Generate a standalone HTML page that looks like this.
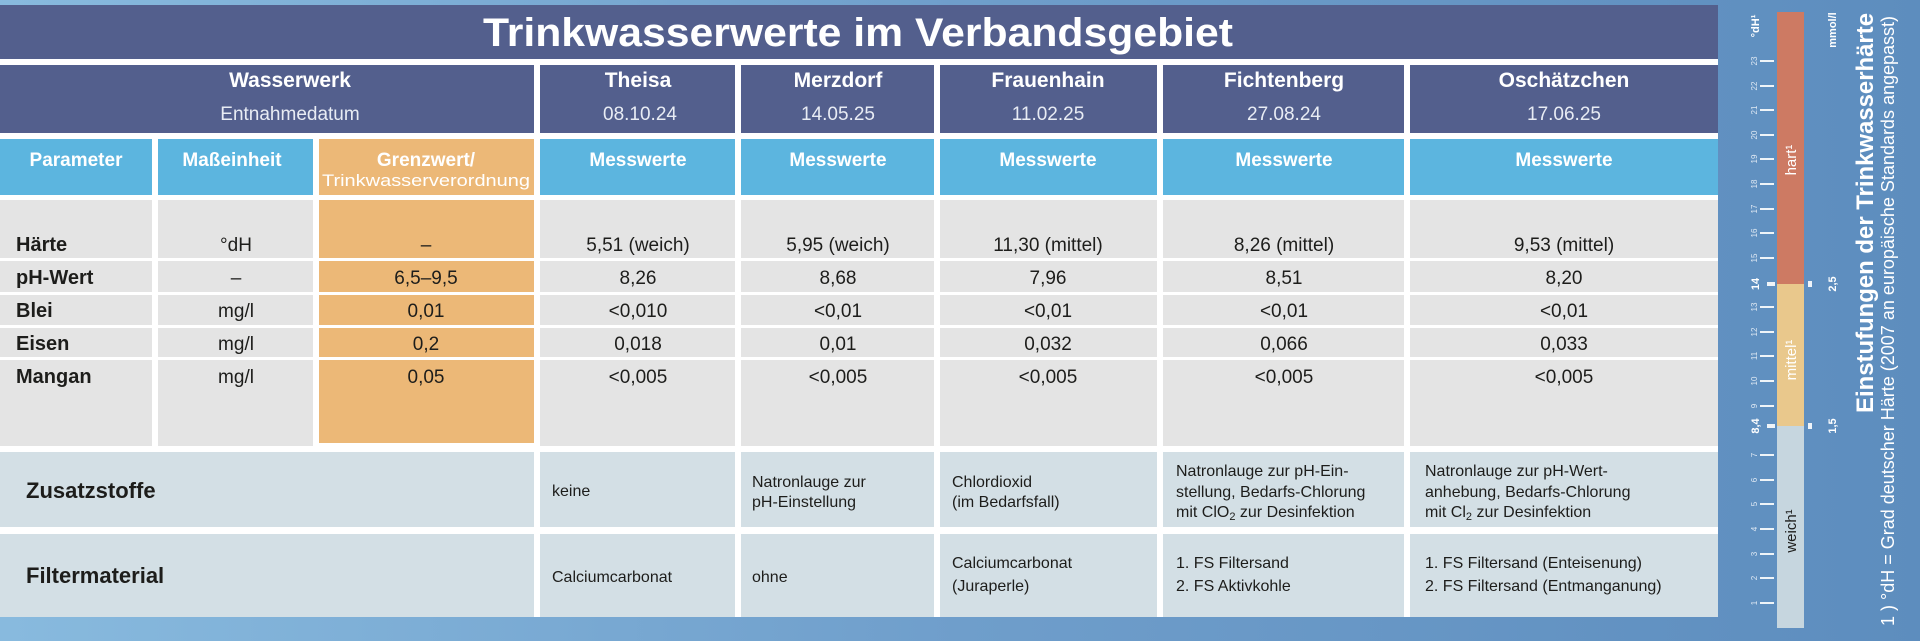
<!DOCTYPE html>
<html><head><meta charset="utf-8"><style>
html,body{margin:0;padding:0;width:1920px;height:641px;overflow:hidden}
svg{display:block}
text{font-family:"Liberation Sans",sans-serif}
.w{fill:#fff}
.d{fill:#1d1d1b}
.b{font-weight:bold}
</style></head><body>
<svg width="1920" height="641" viewBox="0 0 1920 641" xmlns="http://www.w3.org/2000/svg">
<defs>
<linearGradient id="bg" x1="0" y1="0" x2="1" y2="0">
<stop offset="0" stop-color="#88bade"/><stop offset="0.5" stop-color="#6f9ecb"/><stop offset="1" stop-color="#5d8dbe"/>
</linearGradient>
</defs>
<rect width="1920" height="641" fill="url(#bg)"/>
<!-- table white base -->
<rect x="0" y="59" width="1718" height="558" fill="#fff"/>
<!-- title -->
<rect x="0" y="5" width="1718" height="54" fill="#535f8d"/>
<text x="858" y="46" text-anchor="middle" class="w b" font-size="40" textLength="750" lengthAdjust="spacingAndGlyphs">Trinkwasserwerte im Verbandsgebiet</text>
<!-- header row -->
<g fill="#535f8d">
<rect x="0" y="65" width="534" height="68"/>
<rect x="540" y="65" width="195" height="68"/>
<rect x="741" y="65" width="193" height="68"/>
<rect x="940" y="65" width="217" height="68"/>
<rect x="1163" y="65" width="241" height="68"/>
<rect x="1410" y="65" width="308" height="68"/>
</g>
<g class="w" font-size="21" text-anchor="middle">
<text x="290" y="87" class="b">Wasserwerk</text>
<text x="638" y="87" class="b">Theisa</text>
<text x="838" y="87" class="b">Merzdorf</text>
<text x="1048" y="87" class="b">Frauenhain</text>
<text x="1284" y="87" class="b">Fichtenberg</text>
<text x="1564" y="87" class="b">Oschätzchen</text>
</g>
<g fill="#e8ecf4" font-size="19" text-anchor="middle">
<text x="290" y="120">Entnahmedatum</text>
<text x="640" y="120">08.10.24</text>
<text x="838" y="120">14.05.25</text>
<text x="1048" y="120">11.02.25</text>
<text x="1284" y="120">27.08.24</text>
<text x="1564" y="120">17.06.25</text>
</g>
<!-- messwerte row -->
<g fill="#5cb5df">
<rect x="0" y="139" width="152" height="56"/>
<rect x="158" y="139" width="155" height="56"/>
<rect x="540" y="139" width="195" height="56"/>
<rect x="741" y="139" width="193" height="56"/>
<rect x="940" y="139" width="217" height="56"/>
<rect x="1163" y="139" width="241" height="56"/>
<rect x="1410" y="139" width="308" height="56"/>
</g>
<rect x="319" y="139" width="215" height="56" fill="#ecb877"/>
<g class="w b" font-size="19" text-anchor="middle">
<text x="76" y="166">Parameter</text>
<text x="232" y="166">Maßeinheit</text>
<text x="426" y="166">Grenzwert/</text>
<text x="638" y="166">Messwerte</text>
<text x="838" y="166">Messwerte</text>
<text x="1048" y="166">Messwerte</text>
<text x="1284" y="166">Messwerte</text>
<text x="1564" y="166">Messwerte</text>
</g>
<text x="426" y="186" text-anchor="middle" class="w" font-size="17" textLength="208" lengthAdjust="spacingAndGlyphs">Trinkwasserverordnung</text>
<!-- body -->
<g fill="#e4e4e4">
<rect x="0" y="200" width="152" height="246"/>
<rect x="158" y="200" width="155" height="246"/>
<rect x="540" y="200" width="195" height="246"/>
<rect x="741" y="200" width="193" height="246"/>
<rect x="940" y="200" width="217" height="246"/>
<rect x="1163" y="200" width="241" height="246"/>
<rect x="1410" y="200" width="308" height="246"/>
</g>
<rect x="319" y="200" width="215" height="243" fill="#ecb877"/>
<g fill="#fff">
<rect x="0" y="258" width="1718" height="3"/>
<rect x="0" y="292" width="1718" height="3"/>
<rect x="0" y="325" width="1718" height="3"/>
<rect x="0" y="357" width="1718" height="3"/>
</g>
<g class="d b" font-size="20">
<text x="16" y="251">Härte</text>
<text x="16" y="284">pH-Wert</text>
<text x="16" y="317">Blei</text>
<text x="16" y="350">Eisen</text>
<text x="16" y="383">Mangan</text>
</g>
<g class="d" font-size="19" text-anchor="middle">
<text x="236" y="251">°dH</text><text x="236" y="284">–</text><text x="236" y="317">mg/l</text><text x="236" y="350">mg/l</text><text x="236" y="383">mg/l</text>
<text x="426" y="251">–</text><text x="426" y="284">6,5–9,5</text><text x="426" y="317">0,01</text><text x="426" y="350">0,2</text><text x="426" y="383">0,05</text>
<text x="638" y="251">5,51 (weich)</text><text x="638" y="284">8,26</text><text x="638" y="317">&lt;0,010</text><text x="638" y="350">0,018</text><text x="638" y="383">&lt;0,005</text>
<text x="838" y="251">5,95 (weich)</text><text x="838" y="284">8,68</text><text x="838" y="317">&lt;0,01</text><text x="838" y="350">0,01</text><text x="838" y="383">&lt;0,005</text>
<text x="1048" y="251">11,30  (mittel)</text><text x="1048" y="284">7,96</text><text x="1048" y="317">&lt;0,01</text><text x="1048" y="350">0,032</text><text x="1048" y="383">&lt;0,005</text>
<text x="1284" y="251">8,26 (mittel)</text><text x="1284" y="284">8,51</text><text x="1284" y="317">&lt;0,01</text><text x="1284" y="350">0,066</text><text x="1284" y="383">&lt;0,005</text>
<text x="1564" y="251">9,53 (mittel)</text><text x="1564" y="284">8,20</text><text x="1564" y="317">&lt;0,01</text><text x="1564" y="350">0,033</text><text x="1564" y="383">&lt;0,005</text>
</g>
<!-- zusatz / filter -->
<g fill="#d3dfe5">
<rect x="0" y="452" width="534" height="75"/>
<rect x="540" y="452" width="195" height="75"/>
<rect x="741" y="452" width="193" height="75"/>
<rect x="940" y="452" width="217" height="75"/>
<rect x="1163" y="452" width="241" height="75"/>
<rect x="1410" y="452" width="308" height="75"/>
<rect x="0" y="534" width="534" height="83"/>
<rect x="540" y="534" width="195" height="83"/>
<rect x="741" y="534" width="193" height="83"/>
<rect x="940" y="534" width="217" height="83"/>
<rect x="1163" y="534" width="241" height="83"/>
<rect x="1410" y="534" width="308" height="83"/>
</g>
<g class="d b" font-size="22">
<text x="26" y="498">Zusatzstoffe</text>
<text x="26" y="583">Filtermaterial</text>
</g>
<g class="d" font-size="16">
<text x="552" y="496">keine</text>
<text x="752" y="487">Natronlauge zur</text><text x="752" y="507">pH-Einstellung</text>
<text x="952" y="487">Chlordioxid</text><text x="952" y="507">(im Bedarfsfall)</text>
<text x="1176" y="476">Natronlauge zur pH-Ein-</text><text x="1176" y="497">stellung, Bedarfs-Chlorung</text><text x="1176" y="517">mit ClO<tspan font-size="11" dy="3">2</tspan><tspan dy="-3"> zur Desinfektion</tspan></text>
<text x="1425" y="476">Natronlauge zur pH-Wert-</text><text x="1425" y="497">anhebung, Bedarfs-Chlorung</text><text x="1425" y="517">mit Cl<tspan font-size="11" dy="3">2</tspan><tspan dy="-3"> zur Desinfektion</tspan></text>
<text x="552" y="582">Calciumcarbonat</text>
<text x="752" y="582">ohne</text>
<text x="952" y="568">Calciumcarbonat</text><text x="952" y="591">(Juraperle)</text>
<text x="1176" y="568">1. FS Filtersand</text><text x="1176" y="591">2. FS Aktivkohle</text>
<text x="1425" y="568">1. FS Filtersand (Enteisenung)</text><text x="1425" y="591">2. FS Filtersand (Entmanganung)</text>
</g>
<!-- hardness scale -->
<rect x="1777" y="12" width="27" height="272" fill="#cd7a63"/>
<rect x="1777" y="284" width="27" height="142" fill="#e9c88c"/>
<rect x="1777" y="426" width="27" height="202" fill="#c6d6df"/>
<g fill="#fff" opacity="0.9">
<rect x="1760" y="60" width="14" height="2"/><rect x="1760" y="85" width="14" height="2"/><rect x="1760" y="109" width="14" height="2"/><rect x="1760" y="134" width="14" height="2"/><rect x="1760" y="158" width="14" height="2"/><rect x="1760" y="183" width="14" height="2"/><rect x="1760" y="208" width="14" height="2"/><rect x="1760" y="232" width="14" height="2"/><rect x="1760" y="257" width="14" height="2"/>
<rect x="1767" y="282" width="8" height="4"/>
<rect x="1760" y="306" width="14" height="2"/><rect x="1760" y="331" width="14" height="2"/><rect x="1760" y="355" width="14" height="2"/><rect x="1760" y="380" width="14" height="2"/><rect x="1760" y="405" width="14" height="2"/>
<rect x="1767" y="424" width="8" height="4"/>
<rect x="1760" y="454" width="14" height="2"/><rect x="1760" y="479" width="14" height="2"/><rect x="1760" y="503" width="14" height="2"/><rect x="1760" y="528" width="14" height="2"/><rect x="1760" y="553" width="14" height="2"/><rect x="1760" y="577" width="14" height="2"/><rect x="1760" y="602" width="14" height="2"/>
<rect x="1808" y="281" width="4" height="6"/><rect x="1808" y="423" width="4" height="6"/>
</g>
<g fill="#dfe9f3" font-size="8" text-anchor="middle">
<text transform="translate(1757,61) rotate(-90)">23</text>
<text transform="translate(1757,86) rotate(-90)">22</text>
<text transform="translate(1757,110) rotate(-90)">21</text>
<text transform="translate(1757,135) rotate(-90)">20</text>
<text transform="translate(1757,159) rotate(-90)">19</text>
<text transform="translate(1757,184) rotate(-90)">18</text>
<text transform="translate(1757,209) rotate(-90)">17</text>
<text transform="translate(1757,233) rotate(-90)">16</text>
<text transform="translate(1757,258) rotate(-90)">15</text>
<text transform="translate(1757,307) rotate(-90)">13</text>
<text transform="translate(1757,332) rotate(-90)">12</text>
<text transform="translate(1757,356) rotate(-90)">11</text>
<text transform="translate(1757,381) rotate(-90)">10</text>
<text transform="translate(1757,406) rotate(-90)">9</text>
<text transform="translate(1757,455) rotate(-90)">7</text>
<text transform="translate(1757,480) rotate(-90)">6</text>
<text transform="translate(1757,504) rotate(-90)">5</text>
<text transform="translate(1757,529) rotate(-90)">4</text>
<text transform="translate(1757,554) rotate(-90)">3</text>
<text transform="translate(1757,578) rotate(-90)">2</text>
<text transform="translate(1757,603) rotate(-90)">1</text>
</g>
<g class="w b" font-size="11" text-anchor="middle">
<text transform="translate(1759,284) rotate(-90)">14</text>
<text transform="translate(1759,426) rotate(-90)">8,4</text>
<text transform="translate(1836,284) rotate(-90)">2,5</text>
<text transform="translate(1836,426) rotate(-90)">1,5</text>
<text transform="translate(1759,26) rotate(-90)">°dH¹</text>
<text transform="translate(1836,30) rotate(-90)">mmol/l</text>
</g>
<g font-size="15" text-anchor="middle">
<text transform="translate(1796,160) rotate(-90)" class="w">hart¹</text>
<text transform="translate(1796,360) rotate(-90)" class="w">mittel¹</text>
<text transform="translate(1796,531) rotate(-90)" class="d">weich¹</text>
</g>
<text transform="translate(1873,213) rotate(-90)" text-anchor="middle" class="w b" font-size="24" textLength="400" lengthAdjust="spacingAndGlyphs">Einstufungen der Trinkwasserhärte</text>
<text transform="translate(1894,321) rotate(-90)" text-anchor="middle" class="w" font-size="18" textLength="610" lengthAdjust="spacingAndGlyphs">1 ) °dH = Grad deutscher Härte (2007 an europäische Standards angepasst)</text>
</svg>
</body></html>
